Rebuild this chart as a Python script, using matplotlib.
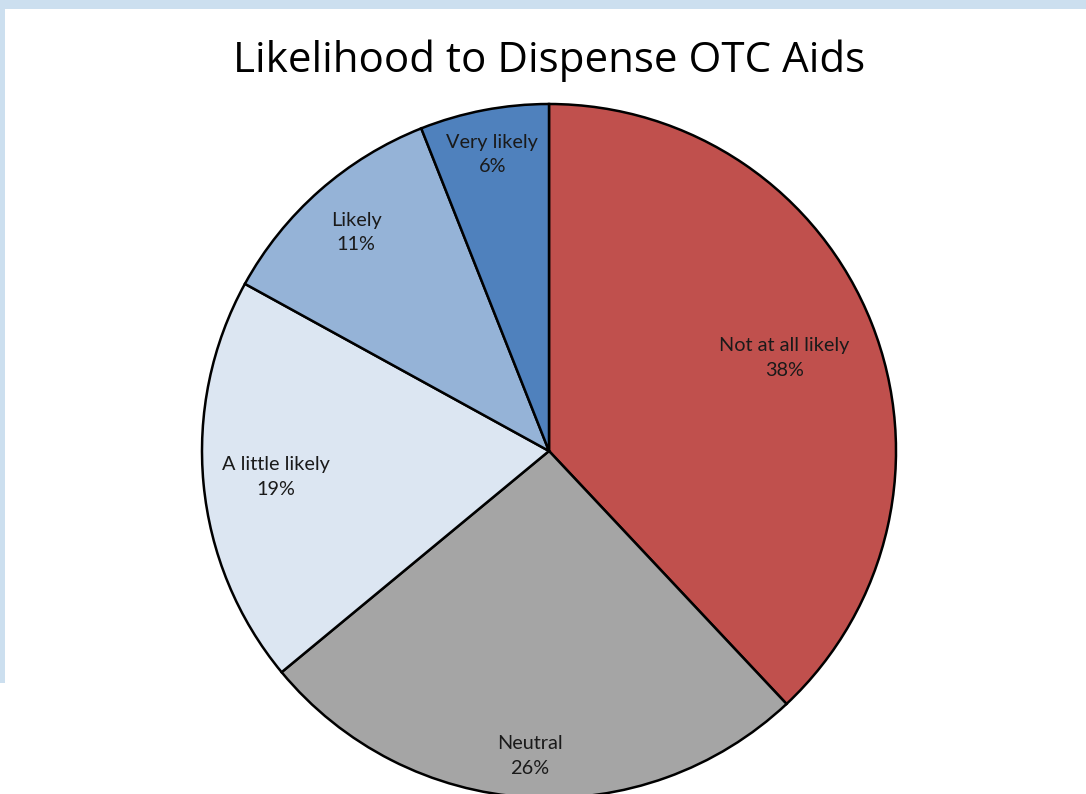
import numpy as np
import matplotlib
matplotlib.use("Agg")
import matplotlib.pyplot as plt
from matplotlib.patches import Rectangle

categories = ["Not at all likely", "Neutral", "A little likely", "Likely", "Very likely"]
shares = [38, 26, 19, 11, 6]
colors = ["#C0504D", "#A5A5A5", "#DCE6F2", "#95B3D7", "#4F81BD"]
label_radius = [0.73, 0.88, 0.79, 0.84, 0.87]

W, H = 1086, 794
fig = plt.figure(figsize=(W / 100, H / 100), dpi=100)
fig.patch.set_facecolor("white")

# light blue frame along the top and left edges
band = "#CCDFEF"
fig.patches.append(Rectangle((0, 1 - 9 / H), 1, 9 / H, transform=fig.transFigure,
                             facecolor=band, edgecolor="none", zorder=0))
fig.patches.append(Rectangle((0, 1 - 683 / H), 5 / W, 683 / H, transform=fig.transFigure,
                             facecolor=band, edgecolor="none", zorder=0))

cx, cy, R = 549, 451, 347
ax = fig.add_axes([(cx - R) / W, (H - cy - R) / H, 2 * R / W, 2 * R / H])
wedges, _ = ax.pie(shares, colors=colors, startangle=90, counterclock=False, radius=1,
                   wedgeprops=dict(edgecolor="black", linewidth=1.8))
ax.set_xlim(-1, 1)
ax.set_ylim(-1, 1)
ax.axis("off")
for w in wedges:
    w.set_clip_on(False)

for w, name, val, rr in zip(wedges, categories, shares, label_radius):
    mid = np.deg2rad((w.theta1 + w.theta2) / 2)
    ax.text(rr * np.cos(mid), rr * np.sin(mid), f"{name}\n{val}%", ha="center", va="center",
            fontsize=14.3, family="Lato", color="#1a1a1a", linespacing=1.55)

fig.text(cx / W, 1 - 61 / H, "Likelihood to Dispense OTC Aids", ha="center", va="center",
         fontsize=30.3, family="Open Sans", color="black")

fig.savefig("out.png", dpi=100)
